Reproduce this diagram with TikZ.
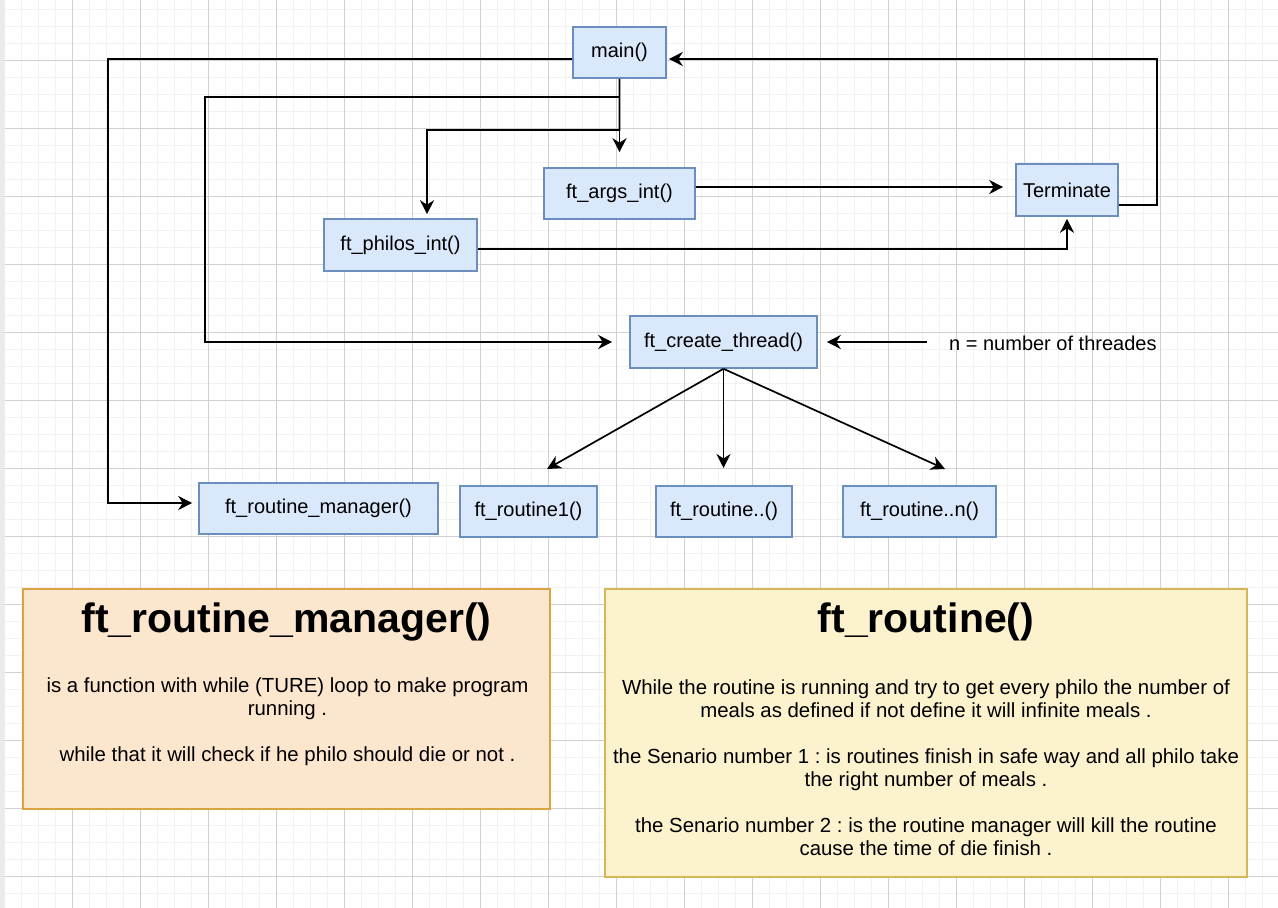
\documentclass[tikz,border=0pt]{standalone}
\usepackage{fontspec}
\setmainfont{Liberation Sans}
\usetikzlibrary{arrows.meta}
\frenchspacing
\definecolor{gridminor}{HTML}{F2F2F2}
\definecolor{gridmajor}{HTML}{D0D0D0}
\definecolor{bluefill}{HTML}{DAE8FC}
\definecolor{bluedraw}{HTML}{6C8EBF}
\definecolor{orfill}{HTML}{FCE6CE}
\definecolor{ordraw}{HTML}{D9A441}
\definecolor{yefill}{HTML}{FDF2CE}
\definecolor{yedraw}{HTML}{D6B656}
\tikzset{
  fnbox/.style={draw=bluedraw, fill=bluefill, line width=1.6bp, inner sep=0pt,
    font=\fontsize{20bp}{23bp}\selectfont},
  conn/.style={line width=1.7bp, black, -{Stealth[length=14bp,width=14bp,inset=4.5bp]}},
  notebox/.style={line width=1.6bp, inner sep=0pt},
  titletext/.style={font=\fontsize{41bp}{46bp}\selectfont\bfseries, inner sep=0pt},
  bodytext/.style={font=\fontsize{20.4bp}{23bp}\selectfont, inner sep=0pt, align=center},
}
\begin{document}
\begin{tikzpicture}[x=1bp, y=-1bp]
\useasboundingbox (0,0) rectangle (1278,908);
% grid
\fill[white] (0,0) rectangle (1278,908);
\foreach \gx in {4,21,...,1278} \draw[gridminor, line width=1bp] (\gx,0) -- (\gx,908);
\foreach \gy in {9,26,...,908} \draw[gridminor, line width=1bp] (0,\gy) -- (1278,\gy);
\foreach \gx in {4,72,...,1278} \draw[gridmajor, line width=1bp] (\gx,0) -- (\gx,908);
\foreach \gy in {60,128,...,908} \draw[gridmajor, line width=1bp] (0,\gy) -- (1278,\gy);
\fill[black!8] (0,0) rectangle (5,908);

% nodes
\node[fnbox, minimum width=93bp, minimum height=51bp] (main) at (619.5,52.5) {main()};
\node[fnbox, minimum width=151bp, minimum height=51bp] (args) at (619.5,193.5) {ft\_args\_int()};
\node[fnbox, minimum width=102bp, minimum height=52bp] (term) at (1067,190) {Terminate};
\node[fnbox, minimum width=153bp, minimum height=52bp] (philos) at (400.5,245) {ft\_philos\_int()};
\node[fnbox, minimum width=187bp, minimum height=52bp] (create) at (723.5,342) {ft\_create\_thread()};
\node[fnbox, minimum width=239bp, minimum height=51bp] (manager) at (318.5,508.5) {ft\_routine\_manager()};
\node[fnbox, minimum width=137bp, minimum height=51bp] (r1) at (528.5,511.5) {ft\_routine1()};
\node[fnbox, minimum width=136bp, minimum height=51bp] (r2) at (724,511.5) {ft\_routine..()};
\node[fnbox, minimum width=153bp, minimum height=51bp] (rn) at (919.5,511.5) {ft\_routine..n()};
\node[anchor=west, inner sep=0pt, font=\fontsize{20bp}{23bp}\selectfont] (nlabel) at (949,343) {n = number of threades};

% free ends
\coordinate (t1) at (547,469);
\coordinate (t2) at (723.5,468);
\coordinate (t3) at (945,469);
\coordinate (nt) at (927,342);

% connectors
\draw[conn, shorten >=6bp] ([yshift=-6.5bp]main.west) -| (108,300) |- ([yshift=5.5bp]manager.west);
\draw[conn, shorten >=17bp] (main.south) |- (205,97) |- (create.west);
\draw[conn, shorten >=4bp] (main.south) |- (427,130) -- ([xshift=26.5bp]philos.north);
\draw[conn, shorten >=15bp] (main.south) -- (args.north);
\draw[conn, shorten >=12bp] ([yshift=6.5bp]args.east) -- ([yshift=3bp]term.west);
\draw[conn, shorten >=2bp] ([yshift=-4bp]philos.east) -| (term.south);
\draw[conn, shorten >=2bp] ([yshift=-15bp]term.east) -| (1157,130) |- ([yshift=-6.5bp]main.east);
\draw[conn, shorten >=9bp] (nt) -- (create.east);
\draw[conn] (create.south) -- (t1);
\draw[conn] (create.south) -- (t2);
\draw[conn] (create.south) -- (t3);

% note boxes
\node[notebox, draw=ordraw, fill=orfill, minimum width=527bp, minimum height=220bp] (orbox) at (286.5,699) {};
\node[titletext] (ortitle) at (286.5,622) {ft\_routine\_manager()};
\node[bodytext] (orbody) at (287.5,721.5) {is a function with while (TURE) loop to make program\\running .\\[23bp]while that it will check if he philo should die or not .};

\node[notebox, draw=yedraw, fill=yefill, minimum width=642bp, minimum height=288bp] (yebox) at (926,733) {};
\node[titletext] (yetitle) at (926,622) {ft\_routine()};
\node[bodytext] (yebody) at (926,767.5) {While the routine is running and try to get every philo the number of\\meals as defined if not define it will infinite meals .\\[23bp]the Senario number 1 : is routines finish in safe way and all philo take\\the right number of meals .\\[23bp]the Senario number 2 : is the routine manager will kill the routine\\cause the time of die finish .};
\end{tikzpicture}
\end{document}
